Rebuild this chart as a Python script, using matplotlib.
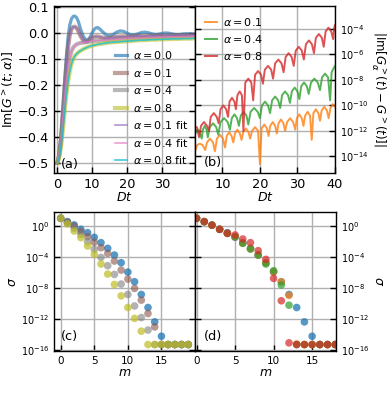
import numpy as np
import matplotlib
matplotlib.use('Agg')
import matplotlib.pyplot as plt
from matplotlib.ticker import FixedLocator, NullLocator

# ---------------- panel (a) data ----------------
t_a = [0, 0.5, 1, 1.5, 2, 2.5, 3, 3.5, 4, 4.5, 5, 5.5, 6, 6.5, 7, 7.5, 8, 8.5, 9, 9.5,
       10, 10.5, 11, 11.5, 12, 13, 14, 15, 16, 17, 18, 19, 20, 21, 22, 23, 24, 25, 26,
       27, 28, 29, 30, 31, 32, 33, 34, 35, 36, 37, 38, 39, 40]
g_a00 = [-0.5, -0.47, -0.40, -0.30, -0.20, -0.10, -0.02, 0.03, 0.055, 0.065, 0.066, 0.06,
         0.045, 0.022, 0.002, -0.014, -0.023, -0.026, -0.022, -0.012, 0.002, 0.014, 0.02,
         0.022, 0.018,
         0.005, -0.007, -0.01, -0.005, 0.004, 0.009, 0.007, 0.0, -0.006, -0.007, -0.003,
         0.002, 0.004, 0.002, -0.002, -0.005, -0.004, -0.001, 0.001, 0.0, -0.003, -0.005,
         -0.005, -0.003, -0.002, -0.002, -0.004, -0.005]
g_a01 = [-0.5, -0.47, -0.41, -0.32, -0.22, -0.13, -0.06, -0.01, 0.015, 0.024, 0.025, 0.02,
         0.008, -0.008, -0.02, -0.029, -0.033, -0.032, -0.028, -0.022, -0.017, -0.014,
         -0.013, -0.013, -0.014,
         -0.017, -0.019, -0.018, -0.016, -0.014, -0.013, -0.013, -0.013, -0.012, -0.012,
         -0.011, -0.011, -0.011, -0.010, -0.010, -0.010, -0.009, -0.009, -0.009, -0.009,
         -0.008, -0.008, -0.008, -0.008, -0.008, -0.007, -0.007, -0.007]
g_a04 = [-0.5, -0.47, -0.42, -0.34, -0.26, -0.19, -0.135, -0.095, -0.07, -0.056, -0.048,
         -0.043, -0.04, -0.038, -0.037, -0.036, -0.035, -0.034, -0.033, -0.032, -0.031,
         -0.030, -0.029, -0.029, -0.028,
         -0.027, -0.026, -0.025, -0.024, -0.023, -0.022, -0.021, -0.020, -0.020, -0.019,
         -0.018, -0.018, -0.017, -0.017, -0.016, -0.016, -0.015, -0.015, -0.015, -0.014,
         -0.014, -0.014, -0.013, -0.013, -0.013, -0.013, -0.012, -0.012]
g_a08 = [-0.5, -0.48, -0.44, -0.38, -0.31, -0.245, -0.19, -0.15, -0.12, -0.10, -0.088,
         -0.08, -0.074, -0.069, -0.065, -0.061, -0.058, -0.055, -0.052, -0.050, -0.048,
         -0.046, -0.045, -0.043, -0.042,
         -0.040, -0.038, -0.036, -0.035, -0.034, -0.033, -0.032, -0.031, -0.030, -0.029,
         -0.028, -0.027, -0.027, -0.026, -0.025, -0.025, -0.024, -0.024, -0.023, -0.023,
         -0.022, -0.022, -0.022, -0.021, -0.021, -0.021, -0.020, -0.020]
# fits coincide with the data curves
fit_a01 = g_a01
fit_a04 = g_a04
fit_a08 = g_a08

# ---------------- panel (b) data (log10 of |difference|) ----------------
t_b01 = [2.7, 3.3, 4.0, 4.7, 5.4, 5.9, 6.7, 7.5, 8.0, 8.55, 9.35, 10.15, 10.7,
         11.15, 11.8, 12.45, 12.9, 13.35, 14.0, 14.65, 15.1, 15.55, 16.25, 16.95, 17.4,
         17.9, 18.7, 19.5, 20.0, 20.45, 21.15, 21.85, 22.3, 22.75, 23.4, 24.05, 24.5,
         24.95, 25.6, 26.25, 26.7, 27.25, 28.05, 28.85, 29.4, 29.85, 30.5, 31.15, 31.6,
         32.05, 32.7, 33.35, 33.8, 34.25, 34.9, 35.55, 36.0, 36.45, 37.15, 37.85, 38.3,
         38.8, 39.4, 40.0]
lg_b01 = [-13.6, -13.1, -13.0, -13.1, -13.5, -12.9, -12.6, -12.9, -13.6, -12.6, -12.3,
          -12.6, -13.3, -12.4, -12.1, -12.4, -12.9, -12.2, -11.9, -12.2, -12.7, -12.1,
          -11.8, -12.1, -12.6, -12.0, -11.7, -12.0, -14.6, -11.8, -11.5, -11.8, -12.4,
          -11.6, -11.3, -11.6, -12.2, -11.4, -11.1, -11.4, -12.0, -11.3, -11.0, -11.3,
          -11.9, -11.0, -10.7, -11.0, -11.6, -10.8, -10.5, -10.8, -12.7, -10.6, -10.3,
          -10.6, -11.2, -10.4, -10.1, -10.4, -11.0, -10.2, -9.9, -10.1]
t_b04 = [2.7, 3.0, 3.6, 4.5, 4.8, 5.3, 5.8, 6.1, 6.65, 7.5, 8.35, 8.9, 9.5, 10.45, 11.4,
         12.0, 12.5, 13.2, 13.9, 14.4, 14.9, 15.65, 16.4, 16.9, 17.5, 18.45, 19.4, 20.0,
         20.55, 21.35, 22.15, 22.7, 23.25, 24.05, 24.85, 25.4, 25.9, 26.7, 27.5, 28.0,
         28.5, 29.25, 30.0, 30.5, 31.0, 31.75, 32.5, 33.0, 33.6, 34.5, 35.4, 36.0,
         36.55, 37.35, 38.15, 38.7, 39.1, 39.6, 40.0]
lg_b04 = [-12.3, -12.0, -11.9, -12.6, -11.9, -11.6, -11.9, -12.5, -11.7, -11.4, -11.7,
          -12.3, -11.3, -11.0, -11.3, -11.9, -11.0, -10.7, -11.0, -11.6, -10.8, -10.5,
          -10.8, -11.5, -10.5, -10.2, -10.5, -11.0, -10.0, -9.7, -10.0, -10.6, -9.6, -9.3,
          -9.6, -10.2, -9.2, -8.9, -9.2, -9.8, -8.9, -8.6, -8.9, -9.5, -8.5, -8.2, -8.5,
          -9.1, -8.2, -7.9, -8.2, -8.8, -7.8, -7.5, -7.8, -9.6, -7.4, -7.1, -6.9]
t_b08 = [2.7, 3.2, 3.8, 4.3, 5.1, 5.9, 6.4, 6.9, 7.7, 8.5, 9.0, 9.5, 10.25, 11.0, 11.5,
         11.9, 12.55, 13.2, 13.6, 14.0, 14.6, 15.2, 15.6, 16.1, 16.9, 17.7, 18.2, 18.7,
         19.5, 20.3, 20.8, 21.3, 22.15, 23.0, 23.5, 24.05, 24.9, 25.75, 26.3, 26.85,
         27.65, 28.45, 29.0, 29.55, 30.35, 31.15, 31.7, 32.25, 33.05, 33.85, 34.4, 34.9,
         35.7, 36.5, 37.0, 37.5, 38.25, 39.0, 39.5, 39.8, 40.0]
lg_b08 = [-11.75, -11.7, -12.5, -11.6, -11.3, -11.6, -12.0, -10.9, -10.6, -10.9, -11.4,
          -10.3, -10.0, -10.3, -10.9, -9.7, -9.4, -9.7, -10.3, -9.2, -8.9, -9.2, -12.0,
          -8.2, -7.9, -8.2, -9.6, -7.6, -7.3, -7.6, -8.3, -7.2, -6.9, -7.2, -7.9, -6.7,
          -6.4, -6.7, -7.4, -6.2, -5.9, -6.2, -6.9, -5.7, -5.4, -5.7, -6.4, -5.2, -4.9,
          -5.2, -5.9, -4.7, -4.4, -4.7, -5.4, -4.2, -3.9, -4.2, -4.8, -3.9, -3.7]

# ---------------- panels (c), (d) data (log10 sigma) ----------------
m_vals = list(range(20))
sc_00 = [0.99, 0.56, 0.13, -0.43, -0.86, -1.46, -2.15, -2.88, -3.74, -4.73, -5.94, -7.18,
         -8.82, -10.5, -12.35, -14.2, -15.27, -15.27, -15.27, -15.27]
sc_01 = [0.99, 0.5, 0.0, -0.73, -1.38, -2.1, -2.8, -3.53, -4.52, -5.68, -6.84, -8.04,
         -9.55, -11.27, -13.0, -15.27, -15.27, -15.27, -15.27, -15.27]
sc_04 = [0.99, 0.34, -0.3, -1.08, -2.02, -3.01, -4.04, -5.12, -6.24, -7.48, -8.82, -10.3,
         -11.8, -13.4, -15.27, -15.27, -15.27, -15.27, -15.27, -15.27]
sc_08 = [0.99, 0.26, -0.65, -1.5, -2.58, -3.66, -4.9, -6.19, -7.53, -9.0, -10.5, -11.9,
         -13.55, -15.27, -15.27, -15.27, -15.27, -15.27, -15.27, -15.27]
sd_00 = sc_00
sd_01 = [0.99, 0.56, 0.1, -0.43, -0.95, -1.4, -2.2, -2.95, -3.75, -4.75, -5.9, -7.18,
         -8.95, -15.2, -15.27, -15.27, -15.27, -15.27, -15.27, -15.27]
sd_04 = [0.99, 0.56, 0.1, -0.43, -0.95, -1.38, -2.24, -2.97, -3.74, -4.9, -5.76, -7.6,
         -10.2, -15.27, -15.27, -15.27, -15.27, -15.27, -15.27, -15.27]
sd_08 = [0.99, 0.56, 0.1, -0.43, -0.95, -1.16, -1.68, -2.15, -3.18, -4.3, -6.75, -9.63,
         -15.05, -15.27, -15.27, -15.27, -15.27, -15.27, -15.27, -15.27]

labels_a = [r'$\alpha = 0.0$', r'$\alpha = 0.1$', r'$\alpha = 0.4$', r'$\alpha = 0.8$',
            r'$\alpha = 0.1$ fit', r'$\alpha = 0.4$ fit', r'$\alpha = 0.8$ fit']
labels_b = [r'$\alpha = 0.1$', r'$\alpha = 0.4$', r'$\alpha = 0.8$']

FS_TOP = 9.3      # linear tick labels, top row
FS_LOG = 7.0      # log tick labels
FS_BOT = 7.5      # linear tick labels, bottom row
FS_LAB = 9.0      # axis labels
FS_LEG = 8.0
plt.rcParams['axes.linewidth'] = 1.0

W, H = 390, 408
fig = plt.figure(figsize=(W / 100, H / 100), dpi=100)

def rect(l, r, t, b):
    return [l / W, 1 - b / H, (r - l) / W, (b - t) / H]

ax_a = fig.add_axes(rect(54, 195, 6, 173))
ax_b = fig.add_axes(rect(195, 335, 6, 173))
ax_c = fig.add_axes(rect(54, 195, 212, 351))
ax_d = fig.add_axes(rect(195, 336, 212, 351))

grid_kw = dict(color='#b0b0b0', lw=1.0)
for ax in (ax_a, ax_b, ax_c, ax_d):
    ax.grid(True, **grid_kw)
    ax.set_axisbelow(True)
    ax.tick_params(direction='in', length=4, width=1,
                   left=True, right=True, bottom=True, top=False)

# ---- (a)
ax_a.plot(t_a, g_a00, color='C0', lw=2.3, alpha=0.65, label=labels_a[0])
ax_a.plot(t_a, g_a01, color='C5', lw=3.0, alpha=0.55, label=labels_a[1])
ax_a.plot(t_a, g_a04, color='C7', lw=3.0, alpha=0.55, label=labels_a[2])
ax_a.plot(t_a, g_a08, color='C8', lw=3.0, alpha=0.6, label=labels_a[3])
ax_a.plot(t_a, fit_a01, color='C4', lw=1.2, alpha=0.7, label=labels_a[4])
ax_a.plot(t_a, fit_a04, color='C6', lw=1.2, alpha=0.7, label=labels_a[5])
ax_a.plot(t_a, fit_a08, color='C9', lw=1.2, alpha=0.8, label=labels_a[6])
ax_a.set_xlim(-1, 39.5)
ax_a.set_ylim(-0.54, 0.105)
ax_a.set_xticks([0, 10, 20, 30])
ax_a.set_yticks([-0.5, -0.4, -0.3, -0.2, -0.1, 0.0, 0.1])
ax_a.tick_params(labelsize=FS_TOP)
ax_a.set_xlabel(r'$Dt$', fontsize=FS_LAB, labelpad=0)
ax_a.set_ylabel(r'$\mathrm{Im}[G^>(t;\alpha)]$', fontsize=FS_LAB, labelpad=1)
ax_a.legend(loc='lower right', bbox_to_anchor=(1.0, 0.0), frameon=False, fontsize=FS_LEG,
            handlelength=1.1, handletextpad=0.5, labelspacing=0.5, borderaxespad=0.2)
ax_a.text(0.05, 0.03, '(a)', transform=ax_a.transAxes, fontsize=FS_TOP)

# ---- (b)
ax_b.plot(t_b01, [10.0 ** v for v in lg_b01], color='C1', lw=1.4, alpha=0.8, label=labels_b[0])
ax_b.plot(t_b04, [10.0 ** v for v in lg_b04], color='C2', lw=1.4, alpha=0.8, label=labels_b[1])
ax_b.plot(t_b08, [10.0 ** v for v in lg_b08], color='C3', lw=1.4, alpha=0.8, label=labels_b[2])
ax_b.set_yscale('log')
ax_b.set_xlim(2.7, 40)
ax_b.set_ylim(10 ** -15.3, 10 ** -2.2)
ax_b.set_xticks([10, 20, 30, 40])
ax_b.yaxis.set_major_locator(FixedLocator([1e-14, 1e-12, 1e-10, 1e-8, 1e-6, 1e-4]))
ax_b.yaxis.set_minor_locator(NullLocator())
ax_b.yaxis.tick_right()
ax_b.tick_params(axis='y', left=True, right=True, labelleft=False, labelright=True,
                 labelsize=FS_LOG)
ax_b.tick_params(axis='x', labelsize=FS_TOP)
ax_b.yaxis.set_label_position('right')
ax_b.set_ylabel(r'$|\mathrm{Im}[G^>_\alpha(t)-G^>(t)]|$', fontsize=8.6, rotation=270,
                labelpad=14)
ax_b.set_xlabel(r'$Dt$', fontsize=FS_LAB, labelpad=0)
ax_b.legend(loc='upper left', frameon=False, fontsize=FS_LEG, handlelength=1.1,
            handletextpad=0.5, labelspacing=0.45, borderaxespad=0.5)
ax_b.text(0.06, 0.04, '(b)', transform=ax_b.transAxes, fontsize=FS_TOP)

# ---- (c)
ms = 30
ax_c.scatter(m_vals, [10.0 ** v for v in sc_00], s=ms, color='C0', alpha=0.75, edgecolors='none')
ax_c.scatter(m_vals, [10.0 ** v for v in sc_01], s=ms, color='C5', alpha=0.6, edgecolors='none')
ax_c.scatter(m_vals, [10.0 ** v for v in sc_04], s=ms, color='C7', alpha=0.6, edgecolors='none')
ax_c.scatter(m_vals, [10.0 ** v for v in sc_08], s=ms, color='C8', alpha=0.7, edgecolors='none')

# ---- (d)
ax_d.scatter(m_vals, [10.0 ** v for v in sd_00], s=ms, color='C0', alpha=0.75, edgecolors='none')
ax_d.scatter(m_vals, [10.0 ** v for v in sd_01], s=ms, color='C1', alpha=0.7, edgecolors='none')
ax_d.scatter(m_vals, [10.0 ** v for v in sd_04], s=ms, color='C2', alpha=0.7, edgecolors='none')
ax_d.scatter(m_vals, [10.0 ** v for v in sd_08], s=ms, color='C3', alpha=0.7, edgecolors='none')

for ax in (ax_c, ax_d):
    ax.set_yscale('log')
    ax.set_ylim(10 ** -16.1, 10 ** 1.8)
    ax.yaxis.set_major_locator(FixedLocator([1e-16, 1e-12, 1e-8, 1e-4, 1e0]))
    ax.yaxis.set_minor_locator(NullLocator())
    ax.set_xticks([0, 5, 10, 15])
    ax.tick_params(axis='x', labelsize=FS_BOT)
    ax.tick_params(axis='y', labelsize=FS_LOG)
    ax.set_xlabel(r'$m$', fontsize=FS_LAB, labelpad=0)

ax_c.set_xlim(-1, 20)
ax_d.set_xlim(-0.2, 18.1)
ax_c.set_ylabel(r'$\sigma$', fontsize=FS_LAB, labelpad=1)
ax_c.text(0.05, 0.08, '(c)', transform=ax_c.transAxes, fontsize=FS_TOP)

ax_d.yaxis.tick_right()
ax_d.tick_params(axis='y', left=True, right=True, labelleft=False, labelright=True)
ax_d.yaxis.set_label_position('right')
ax_d.set_ylabel(r'$\sigma$', fontsize=FS_LAB, rotation=270, labelpad=11)
ax_d.text(0.06, 0.08, '(d)', transform=ax_d.transAxes, fontsize=FS_TOP)

fig.savefig('out.png', dpi=100)
